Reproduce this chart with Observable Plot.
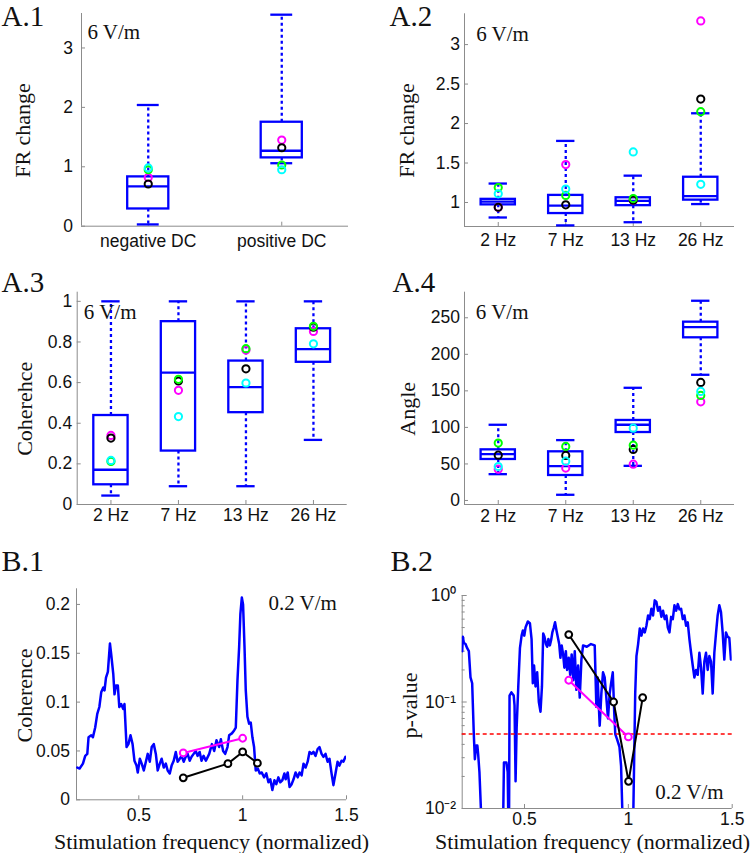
<!DOCTYPE html>
<html><head><meta charset="utf-8">
<script src="https://cdn.jsdelivr.net/npm/d3@7"></script>
<script src="https://cdn.jsdelivr.net/npm/@observablehq/plot@0.6"></script>
<style>
html,body{margin:0;padding:0;background:#fff;}
#fig{position:relative;width:756px;height:853px;overflow:hidden;background:#fff;}
#fig svg{position:absolute;}
</style></head><body><div id="fig"></div>
<script>
// ---------- A.1 ----------
const a1Categories = ["negative DC", "positive DC"];
const a1Low = [0.03, 1.06];
const a1Q1 = [0.29, 1.15];
const a1Median = [0.67, 1.27];
const a1Q3 = [0.83, 1.75];
const a1High = [2.04, 3.56];
const a1Magenta = [0.82, 1.45];
const a1Black = [0.71, 1.32];
const a1Green = [0.95, 1.03];
const a1Cyan = [0.98, 0.95];
const a1YTicks = [0, 1, 2, 3];

// ---------- A.2 ----------
const freqCategories = ["2 Hz", "7 Hz", "13 Hz", "26 Hz"];
const a2Low = [0.81, 0.71, 0.75, 0.98];
const a2Q1 = [0.97, 0.86, 0.96, 1.03];
const a2Median = [1.01, 0.96, 1.02, 1.08];
const a2Q3 = [1.04, 1.09, 1.06, 1.32];
const a2High = [1.24, 1.78, 1.34, 2.13];
const a2Magenta = [0.94, 1.48, 1.03, 3.30];
const a2Black = [0.94, 0.97, 1.03, 2.31];
const a2Green = [1.19, 1.09, 1.05, 2.15];
const a2Cyan = [1.11, 1.17, 1.64, 1.23];
const a2YTicks = [1, 1.5, 2, 2.5, 3];

// ---------- A.3 ----------
const a3Low = [0.044, 0.09, 0.09, 0.318];
const a3Q1 = [0.097, 0.263, 0.452, 0.70];
const a3Median = [0.171, 0.649, 0.578, 0.765];
const a3Q3 = [0.438, 0.90, 0.706, 0.865];
const a3High = [1.0, 1.0, 1.0, 1.0];
const a3Magenta = [0.34, 0.562, 0.76, 0.852];
const a3Black = [0.327, 0.608, 0.668, 0.873];
const a3Green = [0.212, 0.616, 0.767, 0.877];
const a3Cyan = [0.217, 0.433, 0.598, 0.791];
const a3YTicks = [0, 0.2, 0.4, 0.6, 0.8, 1];

// ---------- A.4 ----------
const a4Low = [36, 7.8, 47.4, 172];
const a4Q1 = [56.1, 34.2, 93, 222.6];
const a4Median = [63.4, 47, 103.6, 237.2];
const a4Q3 = [69.3, 66.6, 109.5, 244];
const a4High = [103.6, 82.6, 154.2, 273.3];
const a4Magenta = [42.9, 44.3, 49.7, 135];
const a4Black = [62, 61.6, 69.8, 161.5];
const a4Green = [78.5, 73.9, 75.7, 143.7];
const a4Cyan = [46.5, 53.8, 99, 149.2];
const a4YTicks = [0, 50, 100, 150, 200, 250];

// ---------- B.1 ----------
const b1Freq = [0.204,0.215,0.231,0.242,0.252,0.258,0.271,0.279,0.290,0.300,0.310,0.319,0.329,0.335,0.342,0.351,0.361,0.367,0.377,0.383,0.390,0.399,0.406,0.415,0.425,0.431,0.441,0.450,0.460,0.470,0.479,0.489,0.495,0.505,0.514,0.524,0.534,0.543,0.553,0.562,0.572,0.582,0.591,0.601,0.610,0.620,0.630,0.639,0.649,0.658,0.668,0.678,0.687,0.697,0.706,0.716,0.726,0.735,0.745,0.754,0.764,0.774,0.783,0.793,0.802,0.812,
  0.823,0.839,0.852,0.863,0.874,0.887,0.895,0.906,0.916,0.927,0.935,0.948,0.959,0.967,0.975,0.983,0.989,0.996,1.002,1.009,1.015,1.023,1.031,1.039,1.047,1.055,1.063,1.073,1.082,1.092,1.103,1.114,1.124,1.133,1.143,1.153,1.162,1.172,1.181,1.191,1.201,1.207,1.217,1.226,1.236,1.245,1.255,1.265,1.274,1.284,1.293,1.303,1.313,1.322,1.332,1.341,1.351,1.361,1.370,1.380,1.389,1.399,1.409,1.418,1.428,1.437,1.447,1.457,1.466,1.476,1.485,1.495];
const b1Coherence = [0.033,0.032,0.037,0.045,0.047,0.064,0.066,0.064,0.074,0.088,0.095,0.110,0.115,0.112,0.125,0.131,0.160,0.149,0.129,0.108,0.117,0.117,0.095,0.098,0.093,0.098,0.054,0.057,0.066,0.057,0.040,0.035,0.028,0.042,0.037,0.030,0.039,0.047,0.039,0.054,0.057,0.047,0.030,0.037,0.042,0.033,0.037,0.030,0.027,0.035,0.040,0.049,0.039,0.042,0.045,0.039,0.044,0.047,0.040,0.044,0.047,0.050,0.045,0.049,0.040,0.045,
  0.040,0.047,0.057,0.050,0.061,0.054,0.062,0.050,0.047,0.054,0.066,0.068,0.071,0.074,0.122,0.156,0.190,0.207,0.200,0.156,0.112,0.085,0.078,0.079,0.064,0.054,0.030,0.032,0.027,0.028,0.023,0.027,0.018,0.021,0.010,0.020,0.016,0.023,0.018,0.020,0.027,0.021,0.028,0.013,0.016,0.021,0.028,0.023,0.028,0.025,0.037,0.033,0.039,0.049,0.047,0.049,0.045,0.052,0.054,0.047,0.044,0.047,0.039,0.042,0.027,0.015,0.027,0.039,0.035,0.040,0.039,0.044];
const b1MagentaFreq = [0.714, 1.0];
const b1MagentaValue = [0.048, 0.063];
const b1BlackFreq = [0.714, 0.929, 1.0, 1.071];
const b1BlackValue = [0.0225, 0.037, 0.049, 0.0375];
const b1XTicks = [0.5, 1, 1.5];
const b1YTicks = [0, 0.05, 0.1, 0.15, 0.2];

// ---------- B.2 ----------
const b2Freq = [0.200,0.203,0.208,0.216,0.224,0.232,0.240,0.248,0.256,0.261,0.267,0.273,0.277,0.283,0.290,0.296,0.340,0.395,0.401,0.413,0.419,0.422,0.425,0.428,0.437,0.448,0.452,0.457,0.462,0.470,0.478,0.486,0.492,0.499,0.505,0.516,0.526,0.534,0.540,0.546,0.553,0.561,0.569,0.577,0.584,0.590,0.596,0.603,0.609,0.615,0.622,0.628,0.634,0.641,0.647,0.654,0.660,0.667,0.673,0.679,0.686,0.692,0.699,0.705,0.713,0.720,0.727,0.735,0.742,0.750,0.758,0.766,0.774,0.782,0.800,0.820,0.838,0.846,0.852,0.862,0.870,0.878,0.886,0.894,0.902,0.910,0.917,0.925,0.932,0.937,0.945,0.957,0.965,0.972,0.980,1.020,1.033,1.039,1.047,1.055,1.063,1.071,1.079,1.087,1.095,1.103,1.111,1.119,1.127,1.135,1.143,1.151,1.159,1.167,1.175,1.183,1.190,1.198,1.206,1.214,1.222,1.230,1.238,1.246,1.254,1.262,1.270,1.278,1.286,1.294,1.302,1.310,1.318,1.326,1.334,1.342,1.350,1.358,1.366,1.374,1.382,1.390,1.398,1.406,1.414,1.422,1.430,1.438,1.446,1.454,1.462,1.470,1.478,1.486,1.494];
const b2PValue = [0.30,0.41,0.36,0.35,0.32,0.30,0.17,0.15,0.049,0.029,0.039,0.039,0.032,0.022,0.010,0.004,0.003,0.004,0.027,0.027,0.022,0.008,0.004,0.115,0.123,0.115,0.093,0.018,0.056,0.14,0.32,0.42,0.47,0.42,0.50,0.57,0.55,0.39,0.15,0.22,0.14,0.19,0.10,0.081,0.14,0.44,0.41,0.35,0.33,0.39,0.34,0.38,0.45,0.50,0.56,0.47,0.41,0.35,0.26,0.34,0.28,0.21,0.30,0.20,0.26,0.18,0.28,0.16,0.30,0.13,0.22,0.11,0.25,0.34,0.33,0.35,0.34,0.09,0.17,0.06,0.12,0.19,0.17,0.11,0.07,0.12,0.15,0.19,0.08,0.05,0.045,0.038,0.025,0.008,0.003,0.003,0.12,0.27,0.35,0.49,0.42,0.49,0.45,0.52,0.65,0.60,0.75,0.65,0.90,0.87,0.72,0.78,0.63,0.72,0.60,0.65,0.50,0.45,0.63,0.60,0.81,0.72,0.83,0.74,0.75,0.60,0.65,0.52,0.56,0.39,0.29,0.22,0.17,0.20,0.18,0.29,0.21,0.12,0.24,0.29,0.20,0.27,0.24,0.12,0.29,0.44,0.65,0.81,0.70,0.45,0.25,0.45,0.41,0.40,0.25];
const b2MagentaFreq = [0.713, 1.0];
const b2MagentaValue = [0.16, 0.047];
const b2BlackFreq = [0.713, 0.929, 1.001, 1.069];
const b2BlackValue = [0.43, 0.10, 0.018, 0.11];
const b2Threshold = [0.05];
const b2XTicks = [0.5, 1, 1.5];
const b2YTicks = [0.01, 0.1, 1];
const b2YTickLabels = ["10\u207B\u00B2", "10\u207B\u00B9", "10\u2070"];

// ---------- styling ----------
const BLUE = "#0000ff", AXIS = "#8c8c8c", TXT = "#111";
const MAG = "#ff00ff", GRN = "#00ff00", CYN = "#00ffff", BLK = "#000";
const SERIF = "Liberation Serif, Times New Roman, serif";
const SANS = "Liberation Sans, Arial, sans-serif";
const TICKFS = 17.5;
const fig = document.getElementById("fig");

function place(svg, left, top) {
  svg.style.left = left + "px"; svg.style.top = top + "px";
  fig.appendChild(svg);
}
function txt(s, x, y, m, o = {}) {
  return Plot.text([s], {frameAnchor: "top-left", dx: x - m.left, dy: y - m.top,
    lineAnchor: "bottom", textAnchor: "start", fontFamily: SERIF, fontSize: 21, fill: TXT, ...o});
}
function ylab(s, x, y, m) {
  return txt(s, x, y, m, {rotate: -90, textAnchor: "middle", fontSize: 22});
}
function plotStyle() {
  return {fontFamily: SANS, fontSize: TICKFS + "px", background: "transparent", overflow: "visible", color: TXT};
}

function boxPanel(c) {
  const rows = c.cats.map((name, i) => ({pos: i + 1, low: c.low[i], q1: c.q1[i], med: c.med[i], q3: c.q3[i],
    high: c.high[i], mag: c.mag[i], blk: c.blk[i], grn: c.grn[i], cyn: c.cyn[i]}));
  const xd = [0.5, c.cats.length + 0.5];
  const m = c.m;
  const ln = {stroke: BLUE, strokeWidth: 2.3};
  const wk = {stroke: BLUE, strokeWidth: 2.3, strokeDasharray: "3,3"};
  const dot = (key, col) => Plot.dot(rows, {x: "pos", y: key, r: 3.6, stroke: col, strokeWidth: 2, fill: "none"});
  return Plot.plot({
    width: c.w, height: c.h, marginLeft: m.left, marginRight: m.right, marginTop: m.top, marginBottom: m.bottom,
    style: plotStyle(),
    x: {type: "linear", domain: xd},
    y: {type: "linear", domain: c.yDomain},
    marks: [
      Plot.ruleY([c.yDomain[0]], {stroke: AXIS}),
      Plot.ruleX([xd[0]], {stroke: AXIS}),
      Plot.axisX({ticks: rows.map(d => d.pos), tickSize: 4, dy: -4, fill: "none", stroke: AXIS, label: null}),
      Plot.axisY({ticks: c.yTicks, tickSize: 4, dx: 4, fill: "none", stroke: AXIS, label: null}),
      Plot.axisX({ticks: rows.map(d => d.pos), tickSize: 0, tickPadding: c.padX, tickFormat: d => c.cats[d - 1], fill: TXT, fontSize: TICKFS, label: null}),
      Plot.axisY({ticks: c.yTicks, tickSize: 0, tickPadding: c.padY, tickFormat: d => String(d), fill: TXT, fontSize: TICKFS, label: null}),
      Plot.ruleX(rows, {x: "pos", y1: "q3", y2: "high", ...wk}),
      Plot.ruleX(rows, {x: "pos", y1: "q1", y2: "low", ...wk}),
      Plot.ruleY(rows, {y: "high", x1: d => d.pos - c.cap, x2: d => d.pos + c.cap, ...ln}),
      Plot.ruleY(rows, {y: "low", x1: d => d.pos - c.cap, x2: d => d.pos + c.cap, ...ln}),
      Plot.rect(rows, {x1: d => d.pos - c.half, x2: d => d.pos + c.half, y1: "q1", y2: "q3", fill: "none", ...ln}),
      Plot.ruleY(rows, {y: "med", x1: d => d.pos - c.half, x2: d => d.pos + c.half, ...ln}),
      dot("mag", MAG), dot("blk", BLK), dot("grn", GRN), dot("cyn", CYN),
      txt(c.panel, c.panelXY[0], c.panelXY[1], m, {fontSize: 29}),
      txt("6 V/m", c.noteXY[0], c.noteXY[1], m),
      ylab(c.ylabel, c.ylabXY[0], c.ylabXY[1], m)
    ]
  });
}

// A.1
place(boxPanel({
  cats: a1Categories, low: a1Low, q1: a1Q1, med: a1Median, q3: a1Q3, high: a1High,
  mag: a1Magenta, blk: a1Black, grn: a1Green, cyn: a1Cyan,
  yDomain: [0, 3.58], yTicks: a1YTicks, half: 0.154, cap: 0.082,
  w: 378, h: 262, m: {left: 81, right: 30, top: 13, bottom: 36.3}, padX: 8.5, padY: 8.5,
  panel: "A.1", panelXY: [1, 25.9], noteXY: [87, 38.3], ylabel: "FR change", ylabXY: [29, 130]
}), 0, 0);

// A.2
place(boxPanel({
  cats: freqCategories, low: a2Low, q1: a2Q1, med: a2Median, q3: a2Q3, high: a2High,
  mag: a2Magenta, blk: a2Black, grn: a2Green, cyn: a2Cyan,
  yDomain: [0.696, 3.39], yTicks: a2YTicks, half: 0.254, cap: 0.136,
  w: 378, h: 262, m: {left: 86, right: 22, top: 13.3, bottom: 36}, padX: 7.3, padY: 4.5,
  panel: "A.2", panelXY: [11, 25.9], noteXY: [97.7, 40], ylabel: "FR change", ylabXY: [35.5, 130]
}), 378, 0);

// A.3
place(boxPanel({
  cats: freqCategories, low: a3Low, q1: a3Q1, med: a3Median, q3: a3Q3, high: a3High,
  mag: a3Magenta, blk: a3Black, grn: a3Green, cyn: a3Cyan,
  yDomain: [0, 1.045], yTicks: a3YTicks, half: 0.254, cap: 0.136,
  w: 378, h: 278, m: {left: 76.7, right: 31.3, top: 29.7, bottom: 36}, padX: 4.5, padY: 5,
  panel: "A.3", panelXY: [1, 29], noteXY: [83.3, 56.3], ylabel: "Coherehce", ylabXY: [31.7, 146.3]
}), 0, 262);

// A.4
place(boxPanel({
  cats: freqCategories, low: a4Low, q1: a4Q1, med: a4Median, q3: a4Q3, high: a4High,
  mag: a4Magenta, blk: a4Black, grn: a4Green, cyn: a4Cyan,
  yDomain: [-5.5, 285], yTicks: a4YTicks, half: 0.254, cap: 0.136,
  w: 378, h: 278, m: {left: 86, right: 22, top: 29.7, bottom: 36}, padX: 5, padY: 4.5,
  panel: "A.4", panelXY: [14, 29.7], noteXY: [97.3, 56.3], ylabel: "Angle", ylabXY: [36, 146.3]
}), 378, 262);

// B.1
{
  const m = {left: 76, right: 32, top: 48.3, bottom: 53.7};
  const curve = b1Freq.map((f, i) => ({f, v: b1Coherence[i]}));
  const mag = b1MagentaFreq.map((f, i) => ({f, v: b1MagentaValue[i]}));
  const blk = b1BlackFreq.map((f, i) => ({f, v: b1BlackValue[i]}));
  place(Plot.plot({
    width: 378, height: 313, marginLeft: m.left, marginRight: m.right, marginTop: m.top, marginBottom: m.bottom,
    style: plotStyle(),
    x: {type: "linear", domain: [0.2, 1.5]},
    y: {type: "linear", domain: [0, 0.216]},
    marks: [
      Plot.ruleY([0], {stroke: AXIS}),
      Plot.ruleX([0.2], {stroke: AXIS}),
      Plot.axisX({ticks: b1XTicks, tickSize: 4, dy: -4, fill: "none", stroke: AXIS, label: null}),
      Plot.axisY({ticks: b1YTicks, tickSize: 4, dx: 4, fill: "none", stroke: AXIS, label: null}),
      Plot.axisX({ticks: b1XTicks, tickSize: 0, tickPadding: 9, tickFormat: d => String(d), fill: TXT, fontSize: TICKFS, label: null}),
      Plot.axisY({ticks: b1YTicks, tickSize: 0, tickPadding: 6.5, tickFormat: d => String(d), fill: TXT, fontSize: TICKFS, label: null}),
      Plot.line(curve, {x: "f", y: "v", stroke: BLUE, strokeWidth: 2.5, clip: true}),
      Plot.line(mag, {x: "f", y: "v", stroke: MAG, strokeWidth: 2}),
      Plot.dot(mag, {x: "f", y: "v", r: 3.4, stroke: MAG, strokeWidth: 2, fill: "white"}),
      Plot.line(blk, {x: "f", y: "v", stroke: BLK, strokeWidth: 2}),
      Plot.dot(blk, {x: "f", y: "v", r: 3.4, stroke: BLK, strokeWidth: 2, fill: "white"}),
      txt("B.1", 1, 30.7, m, {fontSize: 30}),
      txt("0.2 V/m", 268, 69.5, m),
      ylab("Coherence", 31, 155, m),
      txt("Stimulation frequency (normalized)", 211, 308, m, {textAnchor: "middle", fontSize: 22})
    ]
  }), 0, 540);
}

// B.2
{
  const m = {left: 83.7, right: 24.3, top: 55, bottom: 45};
  const curve = b2Freq.map((f, i) => ({f, p: b2PValue[i]}));
  const mag = b2MagentaFreq.map((f, i) => ({f, p: b2MagentaValue[i]}));
  const blk = b2BlackFreq.map((f, i) => ({f, p: b2BlackValue[i]}));
  const minor = [];
  for (const dec of [0.01, 0.1]) for (let k = 2; k <= 9; k++) minor.push(dec * k);
  place(Plot.plot({
    width: 378, height: 313, marginLeft: m.left, marginRight: m.right, marginTop: m.top, marginBottom: m.bottom,
    style: plotStyle(),
    x: {type: "linear", domain: [0.2, 1.5]},
    y: {type: "log", domain: [0.01, 1]},
    marks: [
      Plot.ruleY([0.01], {stroke: AXIS}),
      Plot.ruleX([0.2], {stroke: AXIS}),
      Plot.axisX({ticks: b2XTicks, tickSize: 4, dy: -4, fill: "none", stroke: AXIS, label: null}),
      Plot.axisY({ticks: b2YTicks, tickSize: 5, dx: 5, fill: "none", stroke: AXIS, label: null}),
      Plot.axisY({ticks: minor, tickSize: 3, dx: 3, fill: "none", stroke: AXIS, label: null}),
      Plot.axisX({ticks: b2XTicks, tickSize: 0, tickPadding: 4.5, tickFormat: d => String(d), fill: TXT, fontSize: TICKFS, label: null}),
      Plot.axisY({ticks: b2YTicks, tickSize: 0, tickPadding: 6, tickFormat: d => b2YTickLabels[b2YTicks.indexOf(d)], fill: TXT, fontSize: TICKFS, label: null}),
      Plot.line(curve, {x: "f", y: "p", stroke: BLUE, strokeWidth: 2.5, clip: true}),
      Plot.ruleY(b2Threshold, {stroke: "#ff0000", strokeWidth: 1.5, strokeDasharray: "4,3"}),
      Plot.line(mag, {x: "f", y: "p", stroke: MAG, strokeWidth: 2}),
      Plot.dot(mag, {x: "f", y: "p", r: 3.4, stroke: MAG, strokeWidth: 2, fill: "white"}),
      Plot.line(blk, {x: "f", y: "p", stroke: BLK, strokeWidth: 2}),
      Plot.dot(blk, {x: "f", y: "p", r: 3.4, stroke: BLK, strokeWidth: 2, fill: "white"}),
      txt("B.2", 12, 30, m, {fontSize: 30}),
      txt("0.2 V/m", 276.7, 258.5, m),
      ylab("p-value", 38, 165, m),
      txt("Stimulation frequency (normalized)", 214, 308, m, {textAnchor: "middle", fontSize: 22})
    ]
  }), 378, 540);
}
</script></body></html>
